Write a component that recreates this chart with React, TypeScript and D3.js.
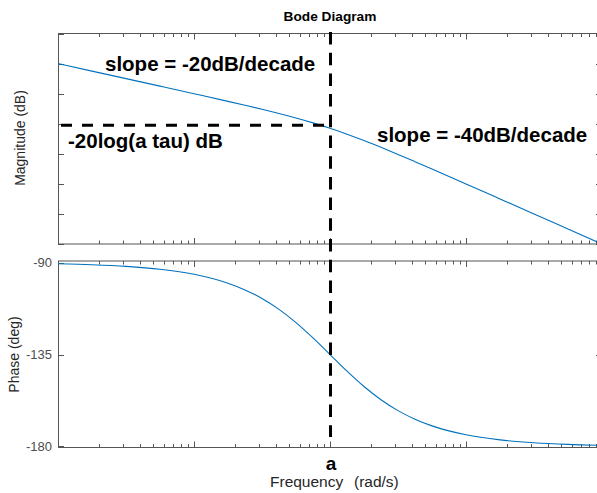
import React from "react";
import * as d3 from "d3";

// Frequency in units of the corner frequency a (rad/s / a)
const freqRatio = [
  0.01, 0.01778, 0.03162, 0.05623, 0.1, 0.1778, 0.2371, 0.3162, 0.4217, 0.5623, 0.7499, 1,
  1.3335, 1.778, 2.371, 3.162, 4.217, 5.623, 10, 17.78, 31.62, 56.23, 100,
];
// Magnitude (dB)
const magnitudeDb = [
  40.0, 35.0, 30.0, 24.99, 19.96, 14.87, 12.26, 9.59, 6.79, 3.81, 0.56, -3.01,
  -6.94, -11.19, -15.71, -20.41, -25.24, -30.13, -40.04, -50.01, -60.0, -70.0, -80.0,
];
// Phase (deg)
const phaseDeg = [
  -90.57, -91.02, -91.81, -93.22, -95.71, -100.08, -103.34, -107.55, -112.87, -119.35, -126.86, -135,
  -143.14, -150.65, -157.13, -162.45, -166.66, -169.92, -174.29, -176.78, -178.19, -178.98, -179.43,
];
const magTicks = [-80, -60, -40, -20, 0, 20, 40, 60];
const phaseTicks = [-90, -135, -180];
const phaseTickLabels = ["-90", "-135", "-180"];
const cornerFreq = 1;
const asymptoteDb = -1;

const W = 597;
const H = 493;
const FONT = "'Liberation Sans', Arial, Helvetica, sans-serif";
const AX = "#555555";

export default function App() {
  const left = 58;
  const right = 602;
  const magTop = 33.5;
  const magBottom = 244;
  const phTop = 261;
  const phBottom = 447.5;

  const x = d3.scaleLog().domain([0.01, 100]).range([left, right]);
  const yMag = d3.scaleLinear().domain([-80, 60]).range([magBottom, magTop]);
  const yPh = d3.scaleLinear().domain([-180.5, -89.2]).range([phBottom, phTop]);

  const magLine = d3
    .line<number>()
    .x((_, i) => x(freqRatio[i]))
    .y((d) => yMag(d))
    .curve(d3.curveMonotoneX);
  const phLine = d3
    .line<number>()
    .x((_, i) => x(freqRatio[i]))
    .y((d) => yPh(d))
    .curve(d3.curveMonotoneX);

  const xTicks: { v: number; major: boolean }[] = [];
  for (let e = -2; e <= 1; e++) {
    for (let k = 1; k <= 9; k++) xTicks.push({ v: k * Math.pow(10, e), major: k === 1 });
  }
  xTicks.push({ v: 100, major: true });

  const xTickMarks = (top: number, bottom: number, key: string) =>
    xTicks.map((t, i) => {
      const len = t.major ? 6 : 3.5;
      const px = Math.round(x(t.v)) + 0.5;
      return (
        <g key={key + i}>
          <line x1={px} x2={px} y1={top} y2={top + len} stroke={AX} strokeWidth={1} />
          <line x1={px} x2={px} y1={bottom} y2={bottom - len} stroke={AX} strokeWidth={1} />
        </g>
      );
    });

  const xa = x(cornerFreq);

  return (
    <svg
      width={W}
      height={H}
      style={{ position: "absolute", left: 0, top: 0, background: "#fff" }}
      fontFamily={FONT}
    >
      <defs>
        <clipPath id="clipMag">
          <rect x={left} y={magTop} width={right - left} height={magBottom - magTop} />
        </clipPath>
        <clipPath id="clipPh">
          <rect x={left} y={phTop} width={right - left} height={phBottom - phTop} />
        </clipPath>
      </defs>
      <rect x={0} y={0} width={W} height={H} fill="#fff" />

      {/* Title */}
      <text x={330} y={21} textAnchor="middle" fontSize={13.7} fontWeight="bold" fill="#000">
        Bode Diagram
      </text>

      {/* Magnitude axes frame */}
      <rect x={left + 0.5} y={magTop} width={right - left} height={magBottom - magTop} fill="none" stroke={AX} strokeWidth={1} />
      {xTickMarks(magTop, magBottom, "m")}
      {magTicks.map((t) => {
        const py = Math.round(yMag(t)) + 0.5;
        return (
          <g key={"my" + t}>
            <line x1={left} x2={left + 6} y1={py} y2={py} stroke={AX} />
            <line x1={right} x2={right - 6} y1={py} y2={py} stroke={AX} />
          </g>
        );
      })}

      {/* Phase axes frame */}
      <rect x={left + 0.5} y={phTop} width={right - left} height={phBottom - phTop} fill="none" stroke={AX} strokeWidth={1} />
      {xTickMarks(phTop, phBottom, "p")}
      {phaseTicks.map((t, i) => {
        const py = Math.round(yPh(t)) + 0.5;
        return (
          <g key={"py" + t}>
            <line x1={left} x2={left + 6} y1={py} y2={py} stroke={AX} />
            <line x1={right} x2={right - 6} y1={py} y2={py} stroke={AX} />
            <text x={52} y={yPh(t)} dy="0.35em" textAnchor="end" fontSize={13} fill="#4d4d4d">
              {phaseTickLabels[i]}
            </text>
          </g>
        );
      })}

      {/* Curves */}
      <path d={magLine(magnitudeDb) || ""} fill="none" stroke="#0072BD" strokeWidth={1.1} clipPath="url(#clipMag)" />
      <path d={phLine(phaseDeg) || ""} fill="none" stroke="#0072BD" strokeWidth={1.1} clipPath="url(#clipPh)" />

      {/* Dashed guides */}
      <line x1={61} x2={xa} y1={yMag(asymptoteDb)} y2={yMag(asymptoteDb)} stroke="#000" strokeWidth={3} strokeDasharray="11 10" />
      <line x1={xa + 0.5} x2={xa + 0.5} y1={32} y2={437} stroke="#000" strokeWidth={3} strokeDasharray="12.5 8.2" />

      {/* Annotations */}
      <text x={105} y={71} fontSize={20.5} fontWeight="bold" fill="#000">slope = -20dB/decade</text>
      <text x={68} y={148} fontSize={20.5} fontWeight="bold" fill="#000">-20log(a tau) dB</text>
      <text x={377} y={142} fontSize={20.5} fontWeight="bold" fill="#000">slope = -40dB/decade</text>
      <text x={xa + 1} y={470} textAnchor="middle" fontSize={19} fontWeight="bold" fill="#000">a</text>

      {/* Axis labels */}
      <text x={270} y={487} fontSize={15.5} fill="#262626">Frequency</text>
      <text x={354} y={487} fontSize={15.5} fill="#262626">(rad/s)</text>
      <text transform={`translate(25, 138) rotate(-90)`} textAnchor="middle" fontSize={14} fill="#262626">
        Magnitude (dB)
      </text>
      <text transform={`translate(19, 354.5) rotate(-90)`} textAnchor="middle" fontSize={14} fill="#262626">
        Phase (deg)
      </text>
    </svg>
  );
}
